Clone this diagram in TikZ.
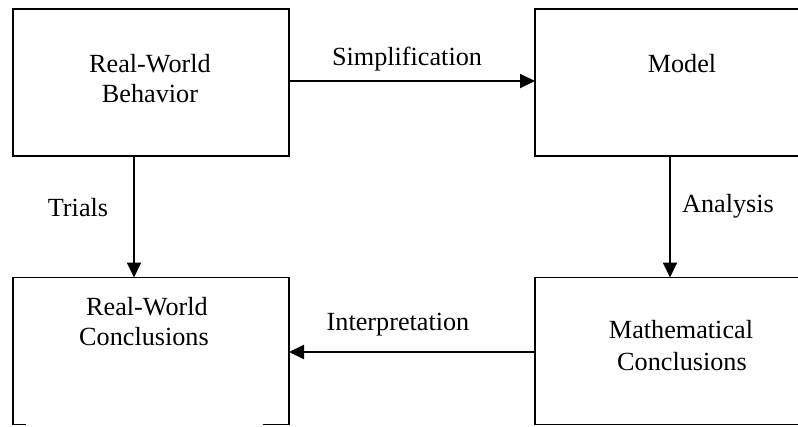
\documentclass[tikz,border=0pt]{standalone}
\usepackage{fontspec}
\setmainfont{Liberation Serif}
\usetikzlibrary{arrows.meta}
\begin{document}
\begin{tikzpicture}[x=1pt,y=-1pt,
  boxnode/.style={draw, line width=1.4pt, inner sep=0pt, outer sep=0pt, minimum height=147pt},
  leftbox/.style={boxnode, minimum width=276pt},
  rightbox/.style={boxnode, minimum width=294pt},
  txt/.style={font=\fontsize{26.2}{30}\selectfont, inner sep=0pt, anchor=base},
  flow/.style={line width=2pt, -{Triangle[length=15pt,width=14pt]}}]
\useasboundingbox (0,0) rectangle (798,426);
\clip (0,0) rectangle (798,426);
% boxes
\node[leftbox] (rwb) at (151,82.5) {};
\node[rightbox] (model) at (682,82.5) {};
\node[leftbox, draw=none] (rwc) at (151,351) {};
\node[rightbox] (mc) at (682,351) {};
\draw[line width=1.4pt] (rwc.south west) -- (rwc.north west) -- (rwc.north east) -- (rwc.south east);
\draw[line width=1.4pt] ([xshift=-0.7pt]rwc.south west) -- ++(13.7,0);
\draw[line width=1.4pt] ([xshift=0.7pt]rwc.south east) -- ++(-26.7,0);
% box texts
\node[txt] (t1a) at (150,72) {Real-World};
\node[txt] (t1b) at (150,102) {Behavior};
\node[txt] (t2) at (682,72) {Model};
\node[txt] (t3a) at (147,315) {Real-World};
\node[txt] (t3b) at (144,345) {Conclusions};
\node[txt] (t4a) at (681,338) {Mathematical};
\node[txt] (t4b) at (682,370) {Conclusions};
% connectors
\draw[flow] ([yshift=1.5pt]rwb.east) -- ([yshift=1.5pt]model.west);
\draw[flow] ([xshift=-17pt]rwb.south) -- ([xshift=-17pt]rwc.north);
\draw[flow] ([xshift=-12pt]model.south) -- ([xshift=-12pt]mc.north);
\draw[flow] ([yshift=-1pt]mc.west) -- ([yshift=-1pt]rwc.east);
% connector labels
\node[txt] (lsimp) at (407,65) {Simplification};
\node[txt] (ltri) at (78,216) {Trials};
\node[txt] (lana) at (728,212) {Analysis};
\node[txt] (lint) at (398,330) {Interpretation};
\end{tikzpicture}
\end{document}
